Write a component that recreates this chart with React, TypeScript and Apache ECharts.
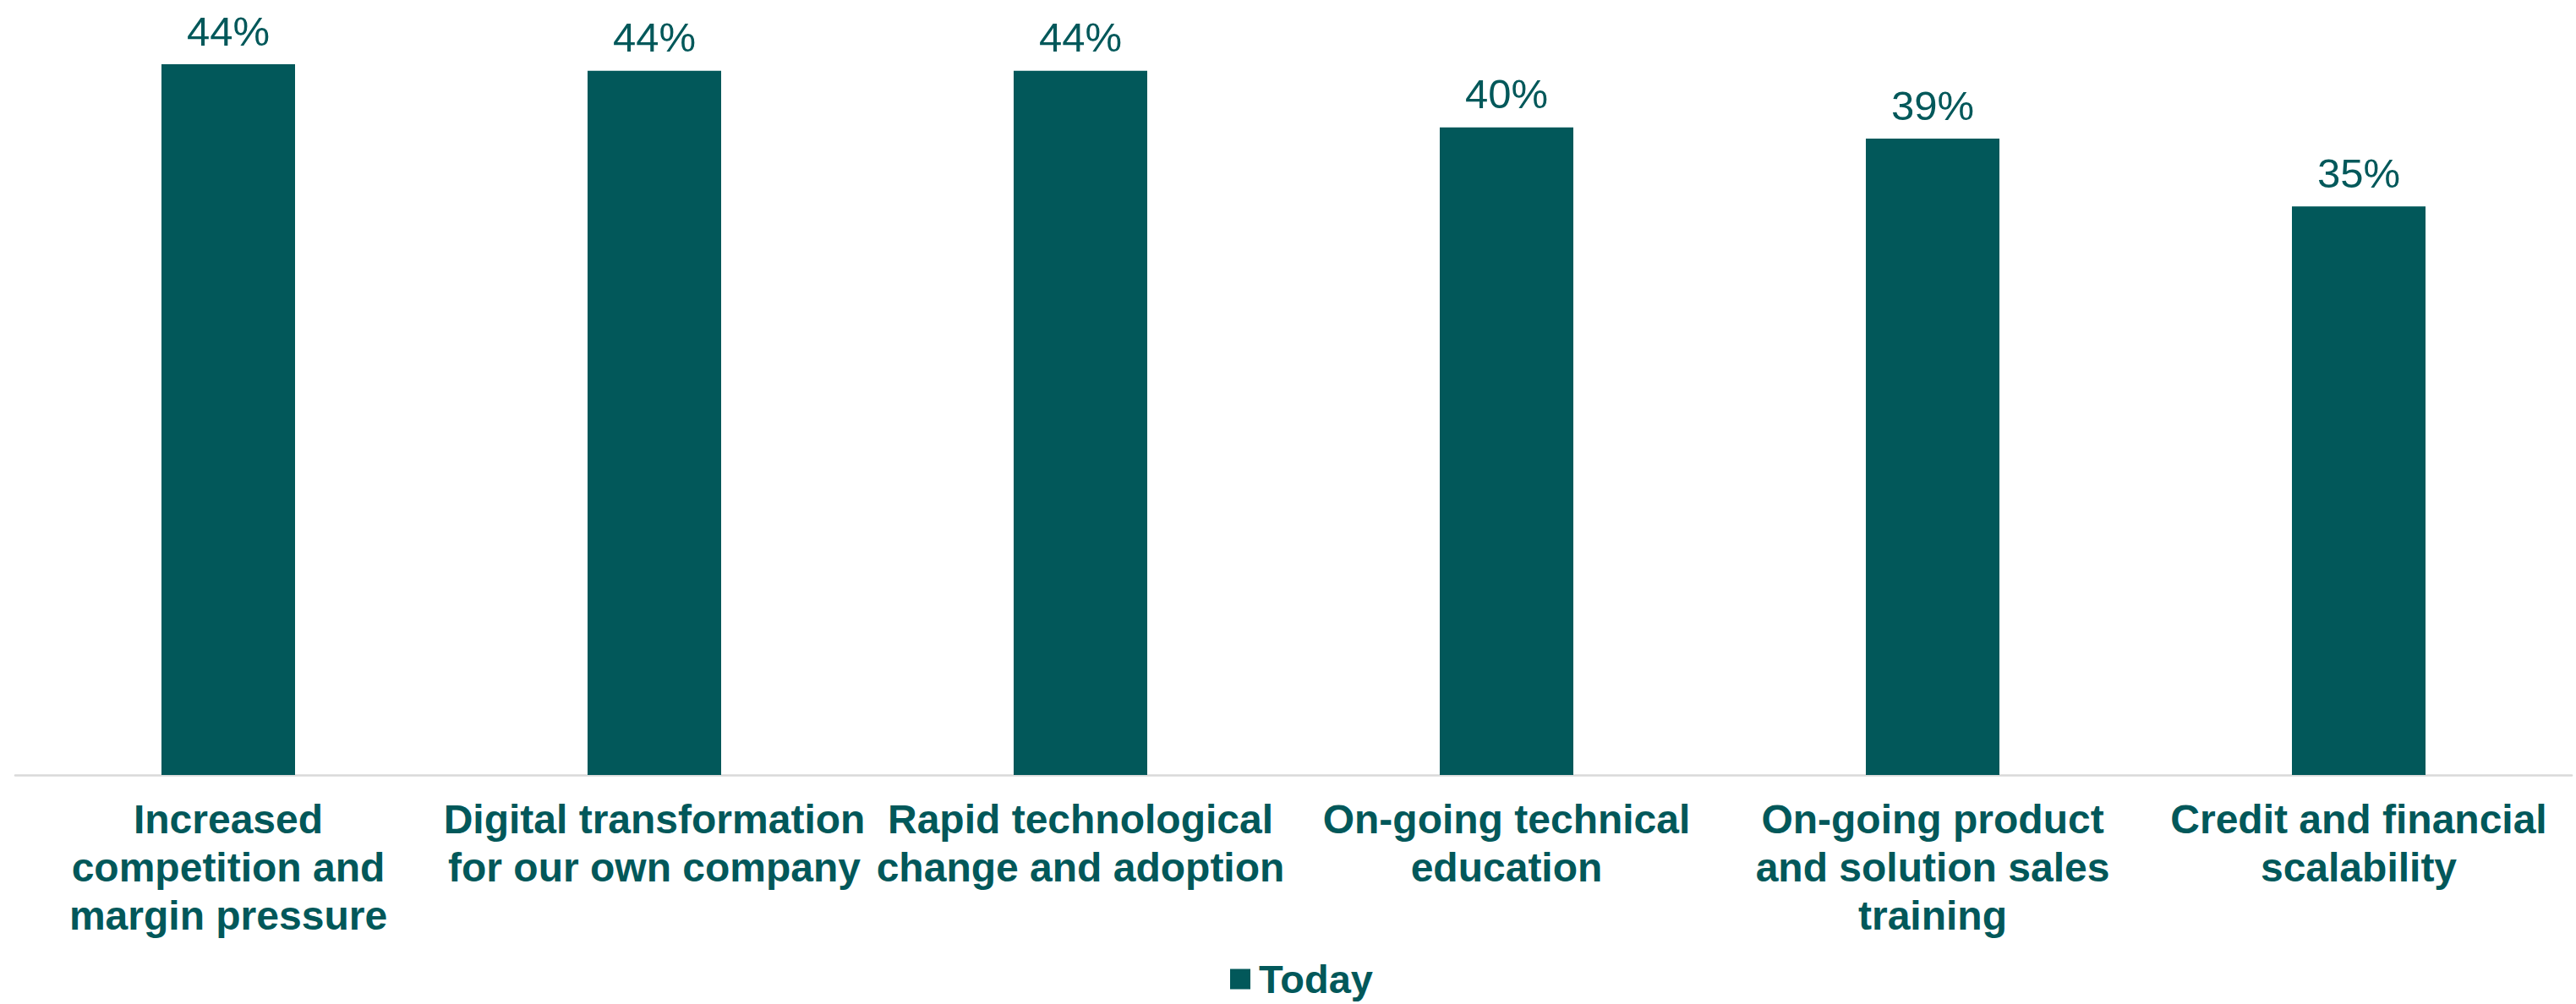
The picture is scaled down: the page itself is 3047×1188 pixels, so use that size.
import React, { useEffect, useRef } from "react";
import * as echarts from "echarts";

const categories: string[] = [
  "Increased\ncompetition and\nmargin pressure",
  "Digital transformation\nfor our own company",
  "Rapid technological\nchange and adoption",
  "On-going technical\neducation",
  "On-going product\nand solution sales\ntraining",
  "Credit and financial\nscalability",
];
const seriesName = "Today";
const todayValues: number[] = [0.44, 0.436, 0.436, 0.401, 0.394, 0.352];

const TEAL = "#02585A";
const FONT = "'Liberation Sans', Arial, Helvetica, sans-serif";

export default function App() {
  const ref = useRef<HTMLDivElement>(null);
  useEffect(() => {
    if (!ref.current) return;
    const chart = echarts.init(ref.current, undefined, { renderer: "svg" });
    chart.setOption({
      animation: false,
      backgroundColor: "#ffffff",
      grid: { left: 18, right: 5, top: 57, bottom: 271, containLabel: false },
      legend: {
        data: [seriesName],
        left: 1450,
        top: 1130,
        icon: "rect",
        itemWidth: 24,
        itemHeight: 24,
        textStyle: {
          color: TEAL,
          fontFamily: FONT,
          fontWeight: "bold",
          fontSize: 47,
          padding: [0, 0, 0, 5],
        },
      },
      xAxis: {
        type: "category",
        data: categories,
        axisLine: { show: true, lineStyle: { color: "#D9D9D9", width: 2.5 } },
        axisTick: { show: false },
        axisLabel: {
          interval: 0,
          color: TEAL,
          fontFamily: FONT,
          fontWeight: "bold",
          fontSize: 48,
          lineHeight: 57,
          margin: 24,
          align: "center",
        },
      },
      yAxis: {
        type: "value",
        min: 0,
        max: 0.45,
        show: false,
        splitLine: { show: false },
      },
      series: [
        {
          name: seriesName,
          type: "bar",
          data: todayValues,
          barWidth: "31.35%",
          itemStyle: { color: TEAL },
          label: {
            show: true,
            position: "top",
            distance: 15,
            color: TEAL,
            fontFamily: FONT,
            fontSize: 49,
            formatter: (p: any) => Math.round(p.value * 100) + "%",
          },
        },
      ],
    });
    return () => chart.dispose();
  }, []);
  return (
    <div
      ref={ref}
      style={{ position: "fixed", left: 0, top: 0, width: 3047, height: 1188 }}
    />
  );
}
